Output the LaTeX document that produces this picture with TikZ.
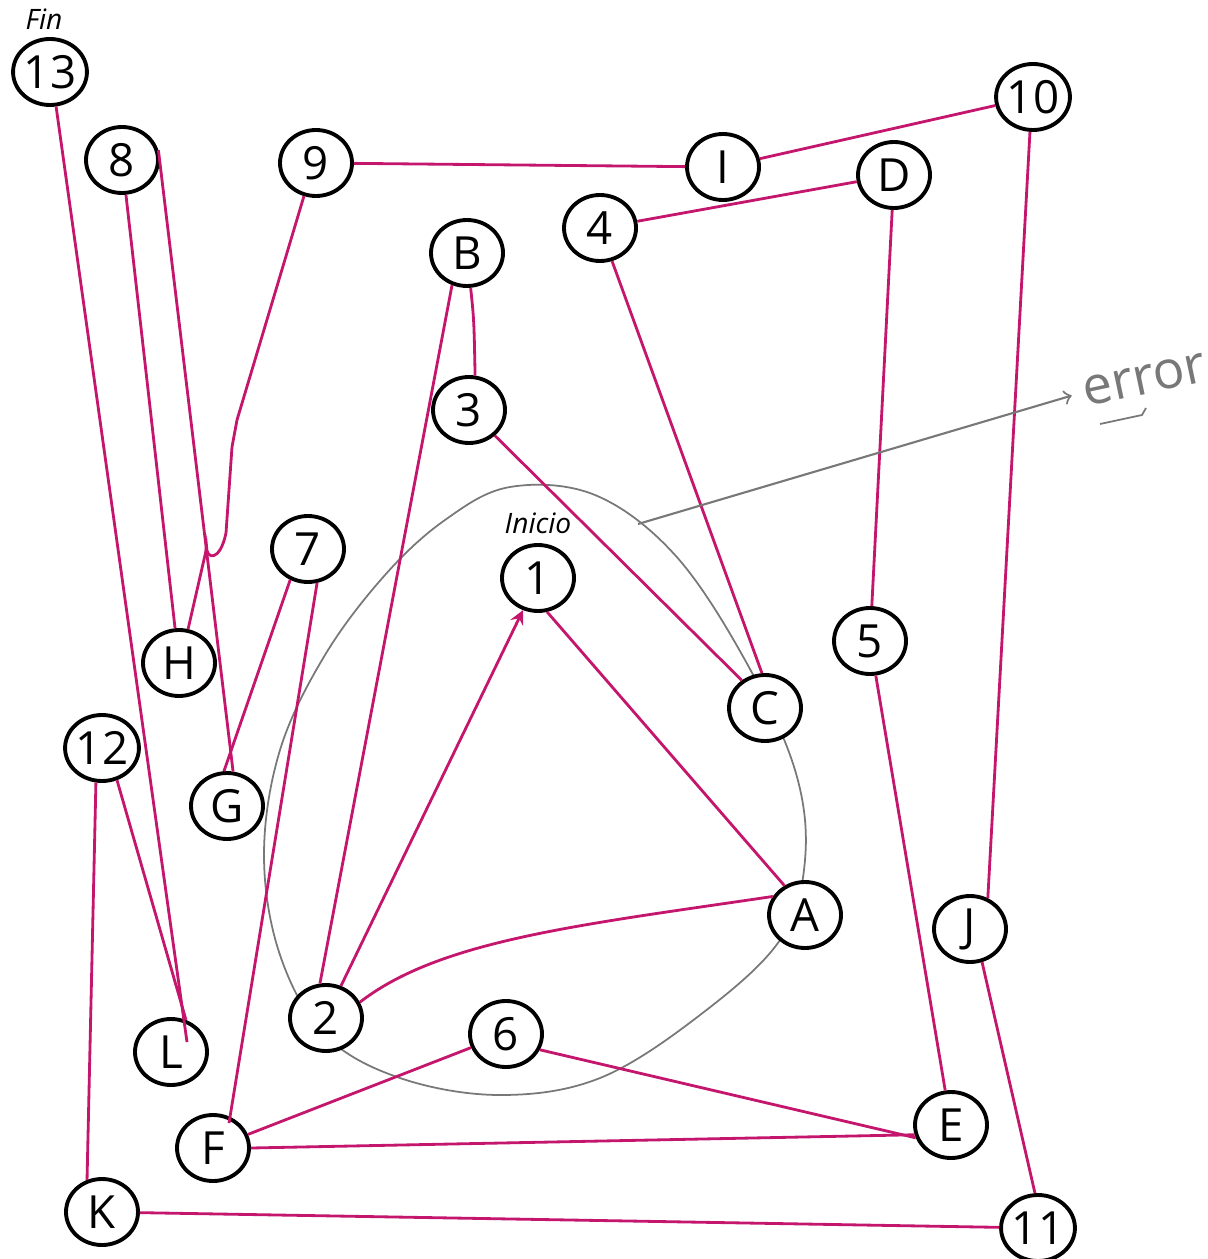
\documentclass[tikz,border=0pt]{standalone}
\usepackage{fontspec}
\setmainfont{Open Sans}
\usetikzlibrary{shapes.geometric, positioning}
\definecolor{pen}{RGB}{196,22,108}
\definecolor{pencil}{RGB}{120,120,120}

\begin{document}
\begin{tikzpicture}[>=stealth,
  vertex/.style={ellipse, draw=black, line width=1.1pt, fill=white, minimum width=0.72cm, minimum height=0.66cm, inner sep=0pt, font=\fontsize{13}{13}\selectfont},
  edge/.style={pen, line width=0.8pt},
  tag/.style={font=\fontsize{8}{8}\itshape}]
  \useasboundingbox (0,0) rectangle (12.07,-12.59);

  % Rough loop drawn in pencil
  \draw[pencil, line width=0.5pt] plot[smooth cycle, tension=0.6] coordinates {
    (5.10,-4.87) (5.95,-4.95) (6.75,-5.55) (7.45,-6.60) (7.95,-7.70) (8.05,-8.60)
    (7.80,-9.40) (7.00,-10.15) (6.00,-10.78) (5.00,-10.95) (4.00,-10.78) (3.25,-10.35)
    (2.80,-9.55) (2.64,-8.55) (2.80,-7.50) (3.25,-6.55) (3.85,-5.75) (4.45,-5.20)};

  % Vertices
  \node[vertex] (n13) at (0.50,-0.72) {13};
  \node[vertex] (n8) at (1.22,-1.60) {8};
  \node[vertex] (n9) at (3.16,-1.63) {9};
  \node[vertex] (nI) at (7.23,-1.67) {I};
  \node[vertex] (n10) at (10.33,-0.97) {10};
  \node[vertex] (nD) at (8.94,-1.75) {D};
  \node[vertex] (n4) at (6.00,-2.28) {4};
  \node[vertex] (nB) at (4.67,-2.53) {B};
  \node[vertex] (n3) at (4.69,-4.10) {3};
  \node[vertex] (n1) at (5.38,-5.78) {1};
  \node[vertex] (n7) at (3.08,-5.49) {7};
  \node[vertex] (nH) at (1.79,-6.63) {H};
  \node[vertex] (n5) at (8.70,-6.41) {5};
  \node[vertex] (nC) at (7.65,-7.08) {C};
  \node[vertex] (n12) at (1.02,-7.48) {12};
  \node[vertex] (nG) at (2.27,-8.06) {G};
  \node[vertex] (nA) at (8.05,-9.15) {A};
  \node[vertex] (nJ) at (9.70,-9.29) {J};
  \node[vertex] (n2) at (3.26,-10.18) {2};
  \node[vertex] (n6) at (5.06,-10.34) {6};
  \node[vertex] (nL) at (1.71,-10.52) {L};
  \node[vertex] (nE) at (9.51,-11.25) {E};
  \node[vertex] (nF) at (2.13,-11.48) {F};
  \node[vertex] (nK) at (1.02,-12.12) {K};
  \node[vertex] (n11) at (10.38,-12.28) {11};

  % Start and end marks
  \node[tag, above=-1.5pt of n13, xshift=-0.6mm] (fin) {Fin};
  \node[tag, above=-1pt of n1] (inicio) {Inicio};

  % Connections
  \draw[edge] (n13.-80) -- ([xshift=1.6mm,yshift=1mm]nL.center);
  \draw[edge] (n8) -- (nH);
  \draw[edge] (n8.15) -- (nG.80);
  \draw[edge] (n9.-110) -- (2.37,-4.20) -- (2.32,-4.47) -- (2.26,-5.33)
    .. controls (2.20,-5.62) and (2.06,-5.60) .. (2.065,-5.46) -- (2.055,-5.53) -- (nH.75);
  \draw[edge] (n9) -- (nI);
  \draw[edge] (nI) -- (n10);
  \draw[edge] (n10.-95) -- (nJ.60);
  \draw[edge] (nJ.-70) -- (n11.95);
  \draw[edge] (nK) -- (n11);
  \draw[edge] (n12.-100) -- (nK.115);
  \draw[edge] (n12.-65) -- (nL.65);
  \draw[edge] (n7.-120) -- (nG.95);
  \draw[edge] (n7.-75) -- ([xshift=1.6mm,yshift=-1mm]nF.north);
  \draw[edge] (nF) -- (n6);
  \draw[edge] (nF.east) -- (nE.-165);
  \draw[edge] (n6.-25) -- (nE.-160);
  \draw[edge] (nE) -- (n5);
  \draw[edge] (n5) -- (nD);
  \draw[edge] (nD) -- (n4);
  \draw[edge] (n4) -- (nC.95);
  \draw[edge] (n3) -- (nC.130);
  \draw[edge] (nB) .. controls (4.74,-3.20) .. (n3.80);
  \draw[edge] (nB.-115) -- (n2.100);
  \draw[edge, ->] (n2.65) -- (n1.-115);
  \draw[edge] (n1.-75) -- (nA.125);
  \draw[edge] (n2.25) .. controls (4.40,-9.40) and (5.80,-9.25) .. (nA.150);

  % Pencil note
  \node[pencil, rotate=12, font=\fontsize{15}{15}\selectfont] (err) at (11.45,-3.80) {error};
  \coordinate (loopmark) at (6.38,-5.24);
  \draw[pencil, line width=0.6pt, ->, >=to] (loopmark) -- (err.west);
  \draw[pencil, line width=0.5pt] (11.00,-4.24) -- (11.42,-4.15) -- (11.46,-4.08);
\end{tikzpicture}
\end{document}
